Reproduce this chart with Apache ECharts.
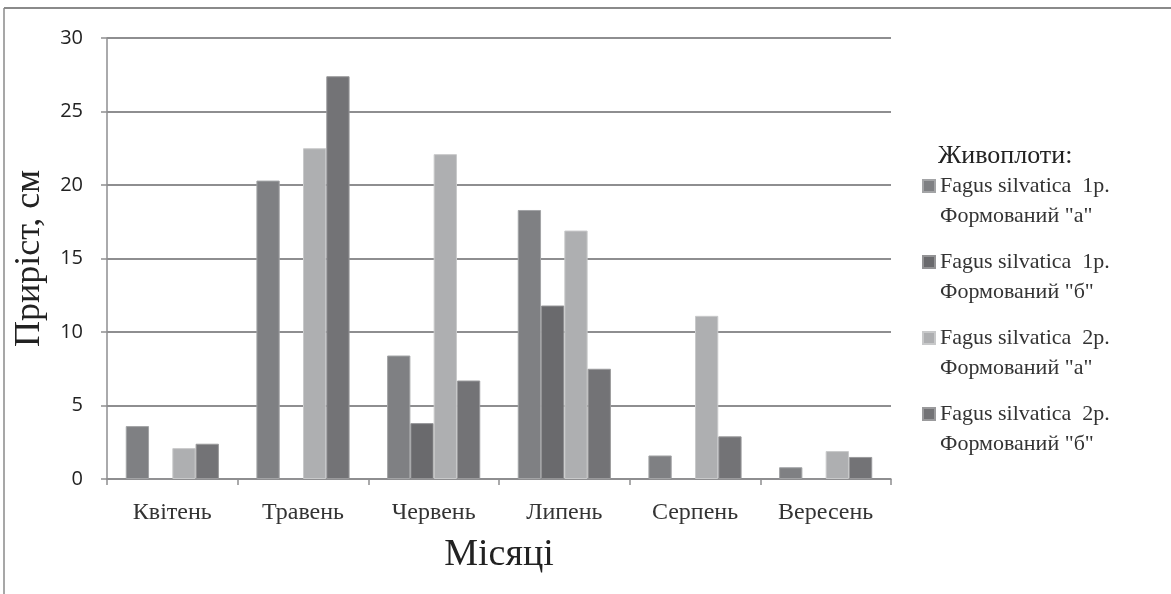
<!DOCTYPE html>
<html>
<head>
<meta charset="utf-8">
<script src="https://cdn.jsdelivr.net/npm/echarts@6/dist/echarts.min.js"></script>
<style>
  html, body { margin: 0; padding: 0; background: #fff; }
  #chart { width: 1171px; height: 594px; }
</style>
</head>
<body>
<div id="chart"></div>
<script>
// Місячний приріст живоплотів Fagus silvatica, см
const months = ['Квітень', 'Травень', 'Червень', 'Липень', 'Серпень', 'Вересень'];
const seriesNames = [
  'Fagus silvatica  1р.\nФормований "а"',
  'Fagus silvatica  1р.\nФормований "б"',
  'Fagus silvatica  2р.\nФормований "а"',
  'Fagus silvatica  2р.\nФормований "б"'
];
const growth1a = [3.6, 20.3, 8.4, 18.3, 1.6, 0.8];
const growth1b = [0, 0, 3.8, 11.8, 0, 0];
const growth2a = [2.1, 22.5, 22.1, 16.9, 11.1, 1.9];
const growth2b = [2.4, 27.4, 6.7, 7.5, 2.9, 1.5];
const yTicks = { min: 0, max: 30, interval: 5 };

const colors = ['#7f8083', '#6a6a6d', '#aeafb1', '#737376'];
const borders = ['#a3a4a6', '#939395', '#c8c9ca', '#9a9a9c'];
const serif = '"Liberation Serif", "DejaVu Serif", serif';
const lineGray = '#8e8e90';

const chart = echarts.init(document.getElementById('chart'), null, { renderer: 'canvas' });

const values = [growth1a, growth1b, growth2a, growth2b];

chart.setOption({
  animation: false,
  backgroundColor: '#ffffff',
  title: {
    text: 'Живоплоти:',
    left: 933,
    top: 138,
    textStyle: { fontFamily: serif, fontSize: 26, fontWeight: 'normal', color: '#222' }
  },
  legend: {
    orient: 'vertical',
    left: 917,
    top: 136,
    itemWidth: 12,
    itemHeight: 12,
    itemGap: -14,
    icon: 'rect',
    data: seriesNames,
    // a blank leading line keeps the marker level with the first text line
    formatter: (name) => '\n' + name,
    textStyle: {
      fontFamily: serif,
      fontSize: 22,
      color: '#333',
      lineHeight: 30
    }
  },
  grid: { left: 107, right: 280, top: 38, bottom: 115 },
  xAxis: {
    type: 'category',
    data: months,
    name: 'Місяці',
    nameLocation: 'middle',
    nameGap: 57,
    nameTextStyle: { fontFamily: serif, fontSize: 38, color: '#222' },
    axisLine: { lineStyle: { color: lineGray, width: 1.5 } },
    axisTick: { show: true, length: 6, lineStyle: { color: lineGray, width: 1.5 } },
    axisLabel: { fontFamily: serif, fontSize: 24, color: '#333', margin: 22 }
  },
  yAxis: {
    type: 'value',
    min: yTicks.min,
    max: yTicks.max,
    interval: yTicks.interval,
    name: 'Приріст, см',
    nameLocation: 'middle',
    nameGap: 59,
    nameTextStyle: { fontFamily: serif, fontSize: 36, color: '#222' },
    axisLine: { show: true, lineStyle: { color: lineGray, width: 1.5 } },
    axisTick: { show: true, length: 6, lineStyle: { color: lineGray, width: 1.5 } },
    axisLabel: { fontFamily: '"Open Sans", "Liberation Sans", sans-serif', fontSize: 20, color: '#222', margin: 24 },
    splitLine: { lineStyle: { color: lineGray, width: 2 } }
  },
  series: seriesNames.map((name, i) => ({
    name: name,
    type: 'bar',
    data: values[i],
    barGap: '0%',
    barCategoryGap: '28.7%',
    itemStyle: { color: colors[i], borderColor: borders[i], borderWidth: 1 }
  })),
  graphic: [
    { type: 'line', shape: { x1: 4, y1: 8, x2: 1171, y2: 8 }, style: { stroke: '#8a8a8a', lineWidth: 2 } },
    { type: 'line', shape: { x1: 4, y1: 8, x2: 4, y2: 594 }, style: { stroke: '#8a8a8a', lineWidth: 1.5 } }
  ]
});
</script>
</body>
</html>
